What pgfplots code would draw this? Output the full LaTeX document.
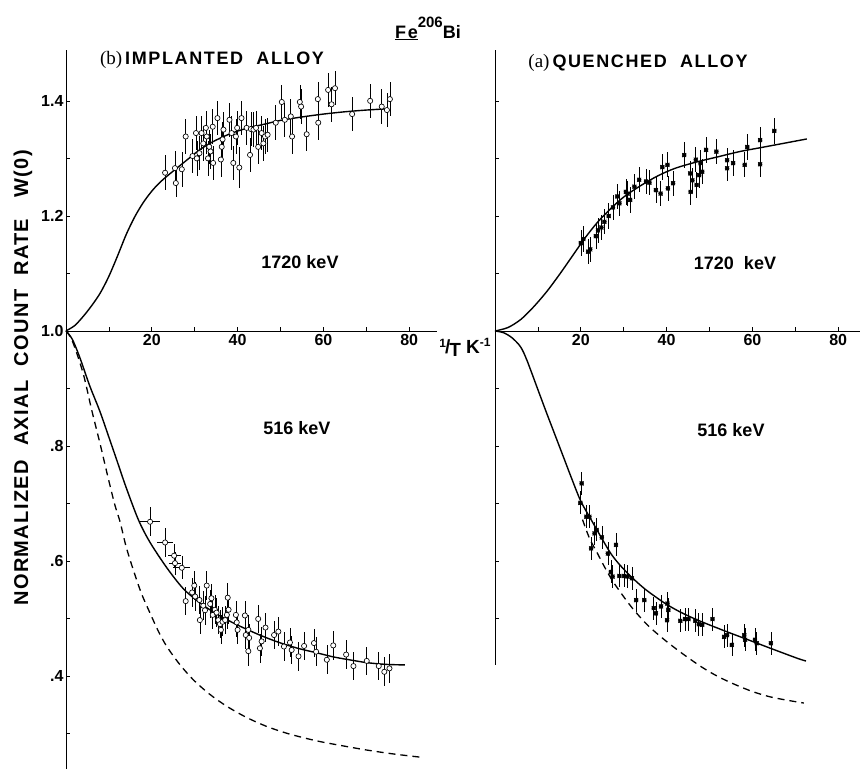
\documentclass[border=0pt]{standalone}
\usepackage{pgfplots}
\pgfplotsset{compat=1.18}
\usepackage{pgfplotstable}
\usepackage{fontspec}
\setmainfont{Liberation Sans}
\newfontfamily\seriffont{Liberation Serif}
\newfontfamily\spacedfont[LetterSpace=9]{Liberation Sans}
\newfontfamily\ylabfont[LetterSpace=7]{Liberation Sans}
\begin{document}
% Left (b) implanted, 1720 keV
\pgfplotstableread{
x y ey
23.1 1.275 0.03
25.4 1.283 0.03
25.6 1.257 0.025
27.0 1.281 0.03
27.9 1.338 0.03
29.5 1.304 0.03
30.3 1.344 0.03
30.5 1.300 0.03
31.1 1.309 0.03
31.6 1.344 0.03
32.0 1.326 0.03
32.6 1.353 0.03
32.8 1.338 0.03
33.1 1.300 0.03
33.4 1.320 0.03
33.7 1.312 0.03
34.2 1.355 0.03
34.3 1.292 0.03
35.3 1.370 0.03
36.1 1.298 0.03
36.3 1.320 0.03
36.5 1.333 0.03
36.7 1.350 0.03
38.1 1.367 0.03
38.6 1.344 0.03
39.0 1.292 0.03
39.6 1.338 0.03
39.9 1.353 0.03
40.4 1.284 0.035
40.9 1.370 0.03
42.1 1.353 0.03
42.9 1.306 0.03
43.1 1.351 0.03
43.7 1.350 0.03
44.3 1.353 0.03
44.8 1.320 0.03
45.6 1.344 0.03
46.0 1.326 0.03
46.4 1.338 0.03
47.0 1.341 0.03
48.9 1.362 0.03
50.3 1.398 0.03
51.0 1.367 0.03
52.4 1.373 0.03
52.7 1.338 0.03
54.5 1.398 0.03
54.8 1.390 0.03
56.1 1.342 0.03
58.7 1.403 0.03
58.8 1.362 0.03
61.1 1.419 0.03
61.9 1.394 0.03
62.7 1.422 0.03
66.7 1.377 0.03
70.9 1.400 0.03
73.6 1.390 0.03
74.8 1.384 0.03
75.5 1.403 0.03
}\Lup
% Left (b) implanted, 516 keV, points with x errors
\pgfplotstableread{
x y ex ey
19.6 0.668 2.3 0.025
23.1 0.632 1.8 0.025
25.2 0.609 1.5 0.02
25.4 0.596 1.5 0.02
27.0 0.588 2.0 0.02
}\Llowx
% Left (b) implanted, 516 keV
\pgfplotstableread{
x y ey
27.9 0.530 0.025
29.4 0.545 0.025
29.9 0.557 0.025
30.1 0.538 0.025
31.1 0.532 0.025
31.2 0.497 0.025
32.0 0.522 0.025
32.4 0.514 0.025
32.8 0.557 0.025
33.6 0.525 0.025
33.9 0.535 0.025
34.2 0.506 0.025
34.7 0.515 0.025
35.1 0.510 0.025
35.5 0.497 0.025
35.9 0.490 0.025
36.1 0.480 0.025
36.5 0.494 0.025
37.1 0.497 0.025
37.5 0.506 0.025
37.7 0.536 0.025
37.9 0.515 0.025
39.6 0.506 0.025
39.8 0.493 0.025
40.0 0.480 0.025
41.7 0.505 0.025
41.9 0.471 0.025
42.5 0.480 0.025
42.7 0.466 0.025
42.5 0.443 0.025
44.8 0.499 0.025
45.2 0.448 0.025
45.6 0.460 0.025
46.5 0.484 0.025
48.5 0.471 0.025
49.5 0.477 0.025
50.8 0.451 0.025
52.2 0.458 0.025
52.6 0.445 0.025
54.2 0.434 0.025
55.5 0.452 0.025
57.8 0.457 0.025
58.3 0.442 0.025
60.8 0.428 0.025
62.3 0.453 0.025
65.3 0.437 0.025
67.0 0.417 0.025
70.1 0.426 0.025
72.9 0.417 0.025
74.2 0.407 0.025
75.4 0.413 0.025
}\Llow
% Right (a) quenched, 1720 keV
\pgfplotstableread{
x y ey
20.0 1.153 0.022
20.6 1.160 0.022
21.7 1.138 0.022
22.2 1.142 0.022
23.5 1.165 0.022
24.0 1.175 0.022
24.8 1.180 0.022
25.5 1.190 0.022
26.5 1.200 0.022
27.5 1.215 0.022
28.5 1.234 0.022
29.0 1.222 0.022
30.5 1.242 0.022
30.9 1.239 0.022
31.5 1.228 0.022
32.5 1.251 0.022
33.6 1.263 0.022
35.2 1.260 0.022
36.0 1.258 0.022
37.5 1.245 0.022
38.6 1.239 0.022
39.0 1.285 0.022
40.2 1.289 0.022
40.3 1.248 0.022
41.5 1.257 0.022
44.1 1.306 0.022
45.5 1.274 0.022
45.6 1.242 0.022
46.0 1.262 0.022
46.8 1.298 0.022
47.0 1.254 0.022
47.6 1.271 0.022
47.9 1.292 0.022
48.3 1.277 0.022
49.2 1.315 0.022
51.6 1.312 0.022
54.1 1.297 0.022
54.1 1.283 0.022
55.5 1.292 0.022
58.2 1.289 0.022
58.8 1.320 0.022
61.8 1.332 0.022
61.8 1.290 0.022
65.1 1.348 0.022
}\Rup
% Right (a) quenched, 516 keV
\pgfplotstableread{
x y ey
20.2 0.735 0.02
19.9 0.701 0.02
21.3 0.677 0.02
22.0 0.677 0.02
22.4 0.622 0.02
23.2 0.648 0.02
23.7 0.654 0.02
24.9 0.641 0.02
26.3 0.613 0.02
28.2 0.628 0.02
27.0 0.581 0.02
27.4 0.573 0.02
29.0 0.574 0.02
30.1 0.574 0.02
30.9 0.573 0.02
31.9 0.570 0.02
32.9 0.532 0.02
34.8 0.532 0.02
37.0 0.518 0.02
37.5 0.509 0.02
38.7 0.521 0.02
40.2 0.526 0.02
40.4 0.515 0.02
40.1 0.497 0.02
43.2 0.496 0.02
44.3 0.499 0.02
45.1 0.499 0.02
46.7 0.496 0.02
47.5 0.490 0.02
48.3 0.489 0.02
50.7 0.499 0.02
53.4 0.468 0.02
54.1 0.471 0.02
55.2 0.454 0.02
58.1 0.471 0.02
58.3 0.463 0.02
60.6 0.463 0.02
61.0 0.457 0.02
64.3 0.457 0.02
}\Rlow
\begin{tikzpicture}
\useasboundingbox (0,0) rectangle (862pt,-769pt);
\pgfplotsset{
  panel/.style={x=4.29pt, y=575pt, xmin=0, ymax=1.489, clip=false,
    anchor=south west,
    axis y line=left, axis x line=none,
    axis line style={-, line width=0.7pt},
    tick align=inside, major tick length=4pt, minor tick length=4pt,
    every tick/.style={line width=0.7pt, black},
    yticklabel style={font=\bfseries\fontsize{16}{16}\selectfont, xshift=1pt},
    /pgf/number format/assume math mode=true},
  xpanel/.style={x=4.29pt, y=575pt, xmin=0, ymax=0.489,
    anchor=south west,
    axis y line=none, axis x line=middle, ytick=\empty,
    axis line style={-, line width=0.7pt},
    xtick={20,40,60,80}, xticklabels={20,40,60,80}, minor xtick={10,30,50,70},
    tick align=inside, major tick length=4pt, minor tick length=4pt,
    every tick/.style={line width=0.7pt, black},
    xticklabel style={font=\bfseries\fontsize{16}{16}\selectfont},
    /pgf/number format/assume math mode=true},
  ebars/.style={only marks, mark=none, forget plot,
    error bars/.cd, y dir=both, y explicit, error mark=none,
    error bar style={line width=0.6pt, black}},
  circ/.style={only marks, mark=*, mark size=2.6pt,
    mark options={fill=white, line width=0.65pt, draw=black}},
  cross/.style={only marks, mark=x, mark size=2.8pt,
    mark options={line width=0.8pt, draw=black}},
  fit/.style={smooth, black, line width=1.4pt, mark=none},
  theo/.style={smooth, black, line width=1.3pt, mark=none, dash pattern=on 7pt off 5pt},
}
% ---------- Left panel (b) ----------
\begin{axis}[panel, at={(66pt,-769pt)}, xmax=86.5, ymin=0.238,
  ytick={0.4,0.6,0.8,1.0,1.2,1.4}, yticklabels={.4,.6,.8,1.0,1.2,1.4},
  minor ytick={0.3,0.5,0.7,0.9,1.1,1.3}]
\addplot[fit] coordinates {(0,1.0) (2,1.009) (4,1.025) (6,1.044) (8,1.066) (10,1.095) (12,1.13) (14,1.167) (16,1.198) (18,1.223) (20,1.243) (22,1.259) (25,1.278) (28,1.296) (31,1.314) (34,1.328) (38,1.342) (42,1.352) (46,1.359) (50,1.366) (55,1.372) (60,1.377) (65,1.381) (70,1.384) (74.5,1.386)};
\addplot[fit] coordinates {(0,1.0) (1.5,0.985) (3.3,0.952) (5.5,0.905) (7.9,0.86) (10,0.815) (11.8,0.776) (14,0.728) (16.9,0.671) (19.6,0.632) (23.5,0.588) (27.3,0.552) (31.2,0.527) (35,0.508) (39,0.492) (43,0.478) (46.8,0.466) (50.5,0.456) (54.5,0.447) (58.5,0.44) (62.3,0.433) (66,0.428) (70.1,0.423) (74.5,0.42) (79,0.419)};
\addplot[theo] coordinates {(0,1.0) (1.5,0.982) (4.0,0.926) (6,0.862) (7.9,0.805) (9.8,0.745) (11.4,0.697) (12.6,0.668) (14,0.625) (15.7,0.584) (17.6,0.543) (19.6,0.509) (21.5,0.478) (23.5,0.451) (26.5,0.42) (29.7,0.393) (33.5,0.368) (37.5,0.347) (42,0.328) (46.8,0.312) (52,0.299) (58.4,0.287) (64,0.279) (70.1,0.271) (76.5,0.264) (83.3,0.258)};
\addplot[ebars] table[x=x, y=y, y error=ey]{\Lup};
\addplot[circ] table[x=x, y=y]{\Lup};
\addplot[ebars] table[x=x, y=y, y error=ey]{\Llow};
\addplot[circ] table[x=x, y=y]{\Llow};
\addplot[only marks, mark=none, forget plot,
  error bars/.cd, x dir=both, x explicit, y dir=both, y explicit, error mark=none,
  error bar style={line width=0.6pt, black}] table[x=x, y=y, x error=ex, y error=ey]{\Llowx};
\addplot[circ] table[x=x, y=y]{\Llowx};
\end{axis}
\begin{axis}[xpanel, at={(66pt,-769pt)}, xmax=86.5, ymin=-0.762]
\end{axis}
% ---------- Right panel (a) ----------
\begin{axis}[panel, at={(495pt,-664.5pt)}, xmax=85, ymin=0.42,
  ytick={0.6,0.8,1.0,1.2,1.4}, yticklabels={}, 
  minor ytick={0.5,0.7,0.9,1.1,1.3}]
\addplot[fit] coordinates {(0,1.0) (3,1.006) (6,1.02) (9,1.042) (12,1.068) (15,1.098) (18,1.13) (21,1.162) (24,1.19) (27,1.213) (30,1.233) (34,1.253) (38,1.27) (42,1.283) (47,1.294) (52,1.303) (57,1.312) (62,1.319) (67,1.326) (72.7,1.334)};
\addplot[fit] coordinates {(0,1.0) (2,0.997) (4,0.988) (6,0.972) (7.5,0.948) (10,0.898) (12,0.858) (14,0.819) (16,0.78) (18,0.741) (20,0.704) (22.4,0.672) (25,0.638) (27,0.613) (29,0.594) (31.7,0.573) (35,0.551) (39.5,0.527) (43,0.512) (47,0.498) (53,0.48) (59,0.463) (65,0.446) (70.4,0.431) (72.5,0.426)};
\addplot[theo] coordinates {(20.4,0.672) (22,0.64) (23.9,0.613) (25.8,0.586) (27.8,0.561) (31.7,0.521) (35.5,0.489) (39.5,0.463) (43.5,0.44) (48.1,0.416) (52,0.399) (56,0.385) (60,0.373) (64,0.364) (68,0.358) (72,0.353)};
\addplot[ebars] table[x=x, y=y, y error=ey]{\Rup};
\addplot[cross] table[x=x, y=y]{\Rup};
\addplot[ebars] table[x=x, y=y, y error=ey]{\Rlow};
\addplot[cross] table[x=x, y=y]{\Rlow};
\end{axis}
\begin{axis}[xpanel, at={(495pt,-664.5pt)}, xmax=85, ymin=-0.58]
\end{axis}
% ---------- Texts ----------
\node[font=\bfseries\fontsize{18}{18}\selectfont, anchor=base] at (428pt,-38pt)
  {{\spacedfont\bfseries\underline{Fe}}\raisebox{11pt}{\fontsize{15}{15}\selectfont 206}{\bfseries Bi}};
\node[font=\bfseries\fontsize{18}{18}\selectfont] at (212pt,-60pt)
  {{\seriffont\mdseries\fontsize{19}{19}\selectfont (b)}\,{\spacedfont\bfseries IMPLANTED\ \ ALLOY}};
\node[font=\bfseries\fontsize{18}{18}\selectfont] at (638pt,-63pt)
  {{\seriffont\mdseries\fontsize{19}{19}\selectfont (a)}\,{\spacedfont\bfseries QUENCHED\ \ ALLOY}};
\node[font=\bfseries\fontsize{18}{18}\selectfont] at (300pt,-262pt) {1720 keV};
\node[font=\bfseries\fontsize{18}{18}\selectfont] at (735pt,-263pt) {1720\ \ keV};
\node[font=\bfseries\fontsize{18}{18}\selectfont] at (297pt,-428pt) {516 keV};
\node[font=\bfseries\fontsize{18}{18}\selectfont] at (731pt,-430pt) {516 keV};
\node[font=\bfseries\fontsize{19}{19}\selectfont] at (465pt,-347pt)
  {\raisebox{6pt}{\fontsize{12}{12}\selectfont 1}\hspace{-1pt}/\hspace{-1pt}\raisebox{-3pt}{T}\ K\raisebox{7pt}{\fontsize{12}{12}\selectfont -1}};
\node[font=\fontsize{20}{20}\selectfont, rotate=90] at (23pt,-378pt)
  {{\ylabfont\bfseries NORMALIZED\ \ AXIAL\ \ COUNT\ \ RATE\ \ \ W(0)}};
\end{tikzpicture}
\end{document}
